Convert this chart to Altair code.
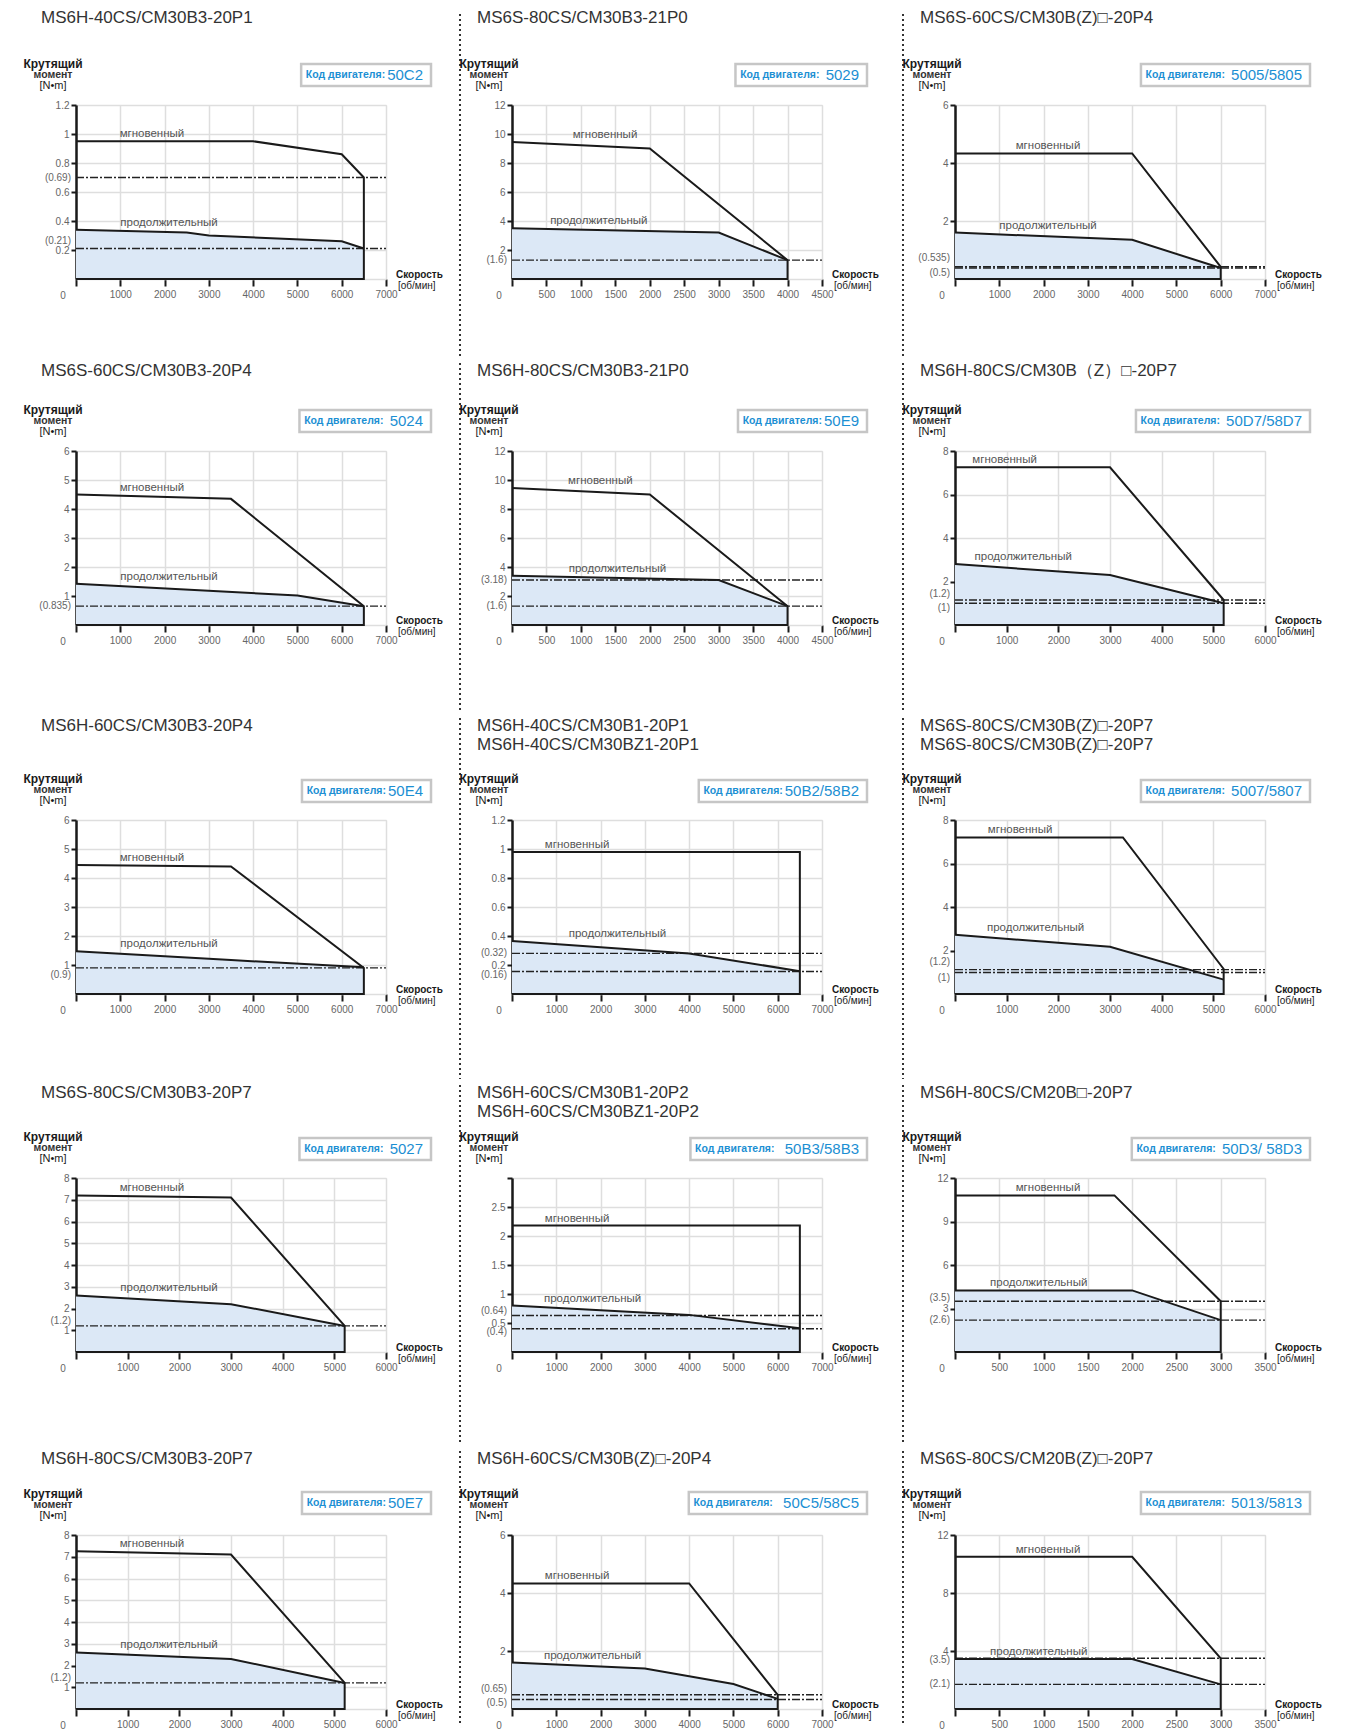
import altair as alt
import pandas as pd

# ---------------- data ----------------
titles = [
    ["MS6H-40CS/CM30B3-20P1"],
    ["MS6S-80CS/CM30B3-21P0"],
    ["MS6S-60CS/CM30B(Z)□-20P4"],
    ["MS6S-60CS/CM30B3-20P4"],
    ["MS6H-80CS/CM30B3-21P0"],
    ["MS6H-80CS/CM30B（Z）□-20P7"],
    ["MS6H-60CS/CM30B3-20P4"],
    ["MS6H-40CS/CM30B1-20P1", "MS6H-40CS/CM30BZ1-20P1"],
    ["MS6S-80CS/CM30B(Z)□-20P7", "MS6S-80CS/CM30B(Z)□-20P7"],
    ["MS6S-80CS/CM30B3-20P7"],
    ["MS6H-60CS/CM30B1-20P2", "MS6H-60CS/CM30BZ1-20P2"],
    ["MS6H-80CS/CM20B□-20P7"],
    ["MS6H-80CS/CM30B3-20P7"],
    ["MS6H-60CS/CM30B(Z)□-20P4"],
    ["MS6S-80CS/CM20B(Z)□-20P7"],
]
codes = ["50C2", " 5029", " 5005/5805", " 5024", "50E9", " 50D7/58D7", "50E4",
         "50B2/58B2", " 5007/5807", " 5027", "  50B3/58B3", " 50D3/ 58D3", "50E7",
         "  50C5/58C5", " 5013/5813"]
x_max = [7000, 4500, 7000, 7000, 4500, 6000, 7000, 7000, 6000, 6000, 7000, 3500, 6000, 7000, 3500]
x_step = [1000, 500, 1000, 1000, 500, 1000, 1000, 1000, 1000, 1000, 1000, 500, 1000, 1000, 500]
y_max = [1.2, 12, 6, 6, 12, 8, 6, 1.2, 8, 8, 3, 12, 8, 6, 12]
y_ticks = [
    [0.2, 0.4, 0.6, 0.8, 1, 1.2],
    [2, 4, 6, 8, 10, 12],
    [2, 4, 6],
    [1, 2, 3, 4, 5, 6],
    [2, 4, 6, 8, 10, 12],
    [2, 4, 6, 8],
    [1, 2, 3, 4, 5, 6],
    [0.2, 0.4, 0.6, 0.8, 1, 1.2],
    [2, 4, 6, 8],
    [1, 2, 3, 4, 5, 6, 7, 8],
    [0.5, 1, 1.5, 2, 2.5, 3],
    [3, 6, 9, 12],
    [1, 2, 3, 4, 5, 6, 7, 8],
    [2, 4, 6],
    [4, 8, 12],
]
y_hidden = [[], [], [], [], [], [], [], [], [], [], [3], [], [], [], []]

peak_x = [
    [0, 4000, 6000, 6500], [0, 2000, 4000], [0, 4000, 6000], [0, 3500, 6500],
    [0, 2000, 4000], [0, 3000, 5200], [0, 3500, 6500], [0, 6500],
    [0, 3250, 5200], [0, 3000, 5200], [0, 6500], [0, 1800, 3000],
    [0, 3000, 5200], [0, 4000, 6000], [0, 2000, 3000],
]
peak_y = [
    [0.95, 0.95, 0.86, 0.7], [9.45, 9.0, 1.3], [4.33, 4.33, 0.42], [4.5, 4.35, 0.65],
    [9.45, 9.0, 1.3], [7.25, 7.25, 1.15], [4.45, 4.4, 0.9], [0.98, 0.98],
    [7.2, 7.2, 1.15], [7.2, 7.1, 1.2], [2.18, 2.18], [10.8, 10.8, 3.5],
    [7.25, 7.1, 1.2], [4.33, 4.33, 0.49], [10.5, 10.5, 3.5],
]
cont_x = [
    [0, 2500, 3000, 6000, 6500], [0, 3000, 4000], [0, 4000, 6000], [0, 5000, 6500],
    [0, 3000, 4000], [0, 3000, 5200], [0, 3500, 6500], [0, 4000, 6500],
    [0, 3000, 5200], [0, 3000, 5200], [0, 4000, 6500], [0, 2000, 3000],
    [0, 3000, 5200], [0, 3000, 5000, 6000], [0, 2000, 3000],
]
cont_y = [
    [0.34, 0.32, 0.30, 0.26, 0.21], [3.5, 3.2, 1.3], [1.6, 1.35, 0.38], [1.42, 1.02, 0.65],
    [3.4, 3.1, 1.3], [2.8, 2.3, 1.0], [1.47, 1.17, 0.92], [0.365, 0.28, 0.157],
    [2.72, 2.17, 0.66], [2.6, 2.2, 1.2], [0.8, 0.64, 0.41], [4.25, 4.25, 2.2],
    [2.6, 2.3, 1.2], [1.6, 1.4, 0.86, 0.35], [3.45, 3.45, 1.7],
]
ref_y = [
    [0.7, 0.21], [1.3], [0.42, 0.38], [0.65], [3.1, 1.3], [1.15, 1.0], [0.9],
    [0.28, 0.155], [1.12, 0.99], [1.2], [0.63, 0.4], [3.5, 2.2], [1.2],
    [0.49, 0.33], [3.5, 1.7],
]
ref_text = [
    ["(0.69)", "(0.21)"], ["(1.6)"], ["(0.535)", "(0.5)"], ["(0.835)"],
    ["(3.18)", "(1.6)"], ["(1.2)", "(1)"], ["(0.9)"], ["(0.32)", "(0.16)"],
    ["(1.2)", "(1)"], ["(1.2)"], ["(0.64)", "(0.4)"], ["(3.5)", "(2.6)"],
    ["(1.2)"], ["(0.65)", "(0.5)"], ["(3.5)", "(2.1)"],
]

# ---------------- layout / style ----------------
W, H = 310, 174
row_top = [93, 90, 104, 95, 86]
row_bot = [80, 89, 87, 95, 18]
col_left = [67, 60, 66]
col_right = [374, 375, 380]
title_y = [-87, -80, -94, -85, -76]
box_y = [-30, -30, -29, -29, -32]
ref_nudge = [
    [0, -8], [0], [-9, 5], [0], [0, 0], [-6, 5], [7], [0, 3], [-8, 6], [-5],
    [-4, 3], [-3, 0], [-5], [-6, 4], [2, 0],
]
peak_lab = [0.245, 0.30, 0.30, 0.245, 0.285, 0.16, 0.245, 0.21, 0.21, 0.245,
            0.21, 0.30, 0.245, 0.21, 0.30]
cont_lab = [0.30, 0.28, 0.30, 0.30, 0.34, 0.22, 0.30, 0.34, 0.26, 0.30,
            0.26, 0.27, 0.30, 0.26, 0.27]
GRID = "#dedede"
BLUE = "#1c8fd3"
FILL = "#dce8f6"
INK = "#1a1a1a"
ONE = pd.DataFrame({"k": [0]})
CODE_FS = 15
CHAR_W = {"/": 0.278, " ": 0.278, "C": 0.722, "D": 0.722, "E": 0.667, "B": 0.667}
LABEL_W = 76


def text_width(s, fs):
    return sum(CHAR_W.get(ch, 0.556) for ch in s) * fs


def txt(text, x, y, size, color=INK, weight="normal", align="left"):
    return alt.Chart(ONE).mark_text(
        text=text, fontSize=size, color=color, fontWeight=weight,
        align=align, baseline="middle"
    ).encode(x=alt.value(x), y=alt.value(y))


def panel(i, r, c):
    T, B = row_top[r], row_bot[r]
    xs = alt.Scale(domain=[0, x_max[i]], nice=False, zero=False)
    ys = alt.Scale(domain=[0, y_max[i]], nice=False, zero=False)
    xvals = list(range(0, x_max[i] + 1, x_step[i]))
    hid = ",".join(str(v) for v in y_hidden[i])
    xaxis = alt.Axis(values=xvals, format="d",
                     labelExpr="datum.value == 0 ? '' : datum.label",
                     grid=True, gridColor=GRID, gridWidth=1.5,
                     domain=True, domainColor=GRID, domainWidth=1.5,
                     tickColor=INK, tickSize=7, tickWidth=2,
                     labelColor="#666", labelFontSize=10, labelPadding=3,
                     labelFlush=False, labelOverlap=False, title=None)
    yaxis = alt.Axis(values=y_ticks[i],
                     labelExpr="indexof([" + hid + "], datum.value) >= 0 ? '' : '' + datum.value",
                     grid=True, gridColor=GRID, gridWidth=1.5,
                     domainColor=INK, domainWidth=2.5,
                     tickColor=INK, tickSize=5, tickWidth=2,
                     labelColor="#666", labelFontSize=10, labelPadding=2,
                     labelFlush=False, labelOverlap=False, title=None)
    X = dict(scale=xs, axis=xaxis)
    Y = dict(scale=ys, axis=yaxis)

    layers = []
    # invisible bounding rule fixing each cell's extent
    layers.append(alt.Chart(ONE).mark_rule(opacity=0, color="white", strokeWidth=0.2).encode(
        x=alt.value(-col_left[c]), x2=alt.value(col_right[c]),
        y=alt.value(-T), y2=alt.value(H + B)))
    if c > 0:
        layers.append(alt.Chart(ONE).mark_rule(color="#333", strokeWidth=2,
                                               strokeDash=[2, 3]).encode(
            x=alt.value(-52), y=alt.value(-T + 2), y2=alt.value(H + B - 2)))

    cdf = pd.DataFrame({"x": cont_x[i], "y": cont_y[i]})
    layers.append(alt.Chart(cdf).mark_area(color=FILL, opacity=1).encode(
        x=alt.X("x:Q", **X), y=alt.Y("y:Q", **Y)))

    for v in ref_y[i]:
        layers.append(alt.Chart(pd.DataFrame({"y": [v]})).mark_rule(
            color="#222", strokeWidth=1.4, strokeDash=[8, 2, 2, 2]).encode(
            y=alt.Y("y:Q", **Y), x=alt.value(0), x2=alt.value(W)))

    xe = peak_x[i][-1]
    pdf = pd.DataFrame({"x": peak_x[i] + [xe, 0], "y": peak_y[i] + [0, 0]})
    pdf["o"] = range(len(pdf))
    layers.append(alt.Chart(pdf).mark_line(color=INK, strokeWidth=2).encode(
        x=alt.X("x:Q", **X), y=alt.Y("y:Q", **Y), order="o:Q"))
    layers.append(alt.Chart(cdf).mark_line(color=INK, strokeWidth=2).encode(
        x=alt.X("x:Q", **X), y=alt.Y("y:Q", **Y)))

    # curve labels
    for name, yv, fr in (("мгновенный", peak_y[i][0], peak_lab[i]),
                         ("продолжительный", cont_y[i][0], cont_lab[i])):
        layers.append(alt.Chart(pd.DataFrame({"x": [fr * x_max[i]], "y": [yv]})).mark_text(
            text=name, fontSize=11.5, color="#555", dy=-7, baseline="middle").encode(
            x=alt.X("x:Q", **X), y=alt.Y("y:Q", **Y)))

    # reference value labels on the y axis
    for v, t, n in zip(ref_y[i], ref_text[i], ref_nudge[i]):
        layers.append(alt.Chart(pd.DataFrame({"y": [v]})).mark_text(
            text=t, fontSize=10, color="#666", align="right", baseline="middle",
            dx=-5, dy=n).encode(x=alt.value(0), y=alt.Y("y:Q", **Y)))

    # "0" of the speed axis
    layers.append(txt("0", -13, H + 17, 10, color="#666", align="center"))

    # model title
    for k, line in enumerate(titles[i]):
        layers.append(txt(line, -35, title_y[r] + 19 * k, 17, color="#333"))

    # torque axis title
    layers.append(txt("Крутящий", -23, -41, 12, weight="bold", align="center"))
    layers.append(txt("момент", -23, -30, 10.5, color="#333", weight="bold", align="center"))
    layers.append(txt("[N•m]", -23, -19, 11, align="center"))

    # speed axis title
    layers.append(txt("Скорость", W + 10, H - 4, 10, weight="bold"))
    layers.append(txt("[об/мин]", W + 12, H + 7, 10))

    # motor code box
    right = 355
    code_w = text_width(codes[i], CODE_FS)
    label_right = right - 8 - code_w - 2
    left = label_right - LABEL_W - 8
    by = box_y[r]
    layers.append(alt.Chart(ONE).mark_rect(fill="white", stroke="#c6c6c6",
                                           strokeWidth=2.5).encode(
        x=alt.value(left), x2=alt.value(right),
        y=alt.value(by - 11), y2=alt.value(by + 11)))
    layers.append(txt("Код двигателя:", label_right, by, 10.5, color=BLUE,
                      weight="bold", align="right"))
    layers.append(txt(codes[i].strip(), right - 8, by, CODE_FS, color=BLUE, align="right"))

    return alt.layer(*layers).properties(width=W, height=H)


rows = []
for r in range(5):
    rows.append(alt.hconcat(*[panel(r * 3 + c, r, c) for c in range(3)], spacing=0))

chart = alt.vconcat(*rows, spacing=0).configure_view(stroke=None).configure(
    font="Liberation Sans", background="white").properties(padding=0)

chart.save("out.html", embed_options={"renderer": "svg", "actions": False})
